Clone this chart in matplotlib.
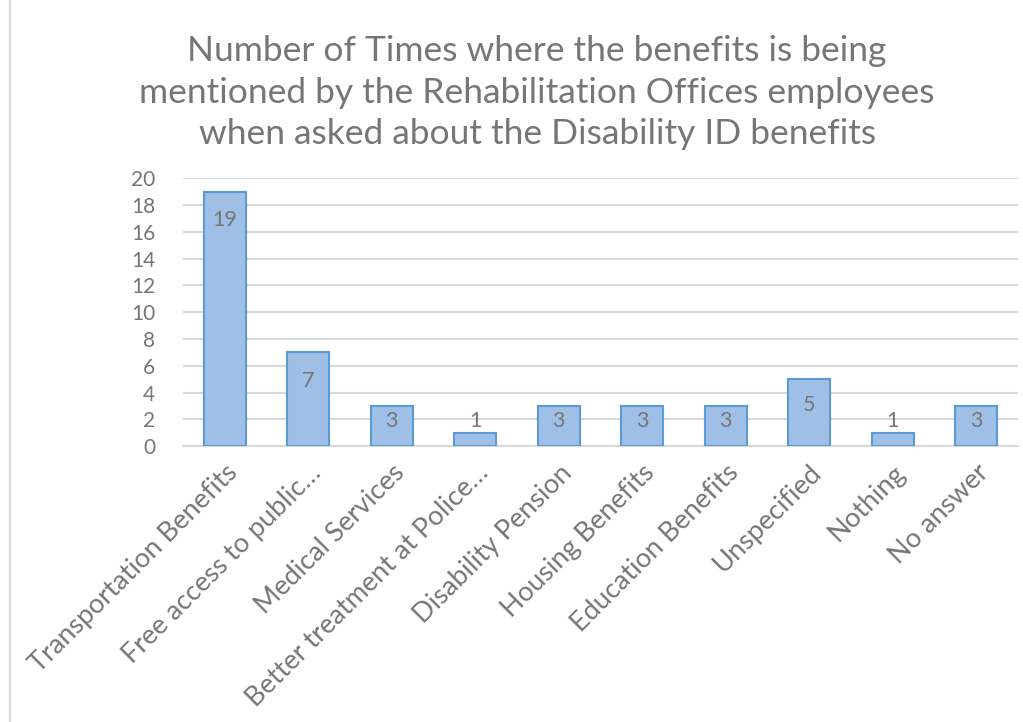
import numpy as np
import matplotlib.pyplot as plt
from matplotlib.patches import Rectangle

categories = ["Transportation Benefits", "Free access to public…", "Medical Services",
              "Better treatment at Police…", "Disability Pension", "Housing Benefits",
              "Education Benefits", "Unspecified", "Nothing", "No answer"]
counts = [19, 7, 3, 1, 3, 3, 3, 5, 1, 3]
yticks = [0, 2, 4, 6, 8, 10, 12, 14, 16, 18, 20]

plt.rcParams['font.family'] = ['Lato', 'DejaVu Sans']
grey = "#767676"

fig = plt.figure(figsize=(10.23, 7.22), dpi=100)
ax = fig.add_axes([0.179, 0.382, 0.816, 0.371])

x = np.arange(len(categories))
ax.bar(x, counts, width=0.5, color="#a0bfe6", edgecolor="#5b9bd5", linewidth=1.5, zorder=3)

for xi, v in zip(x, counts):
    if v < 2:
        ax.text(xi, v + 0.9, str(v), ha="center", va="center", fontsize=15.5, color=grey, zorder=4)
    else:
        ax.text(xi, v - min(2.1, 0.38 * v), str(v), ha="center", va="center",
                fontsize=15.5, color=grey, zorder=4)

ax.set_xlim(-0.5, len(categories) - 0.5)
ax.set_ylim(0, 20)
ax.set_yticks(yticks)
ax.yaxis.grid(True, color="#d9d9d9", linewidth=1.5, zorder=0)
ax.tick_params(axis="y", length=0, labelsize=15, labelcolor=grey, pad=20)
ax.tick_params(axis="x", length=0, labelsize=19.5, labelcolor=grey, pad=10)
ax.set_xticks(x)
ax.set_xticklabels(categories, rotation=45, ha="right", rotation_mode="anchor")
for s in ["top", "right", "left"]:
    ax.spines[s].set_visible(False)
ax.spines["bottom"].set_color("#d9d9d9")
ax.spines["bottom"].set_linewidth(1.5)

fig.text(0.525, 0.952, "Number of Times where the benefits is being\n"
         "mentioned by the Rehabilitation Offices employees\n"
         "when asked about the Disability ID benefits",
         ha="center", va="top", fontsize=25.5, color=grey, linespacing=1.38)

fig.patches.append(Rectangle((0.01, -0.01), 1.0, 1.02, transform=fig.transFigure,
                             fill=False, edgecolor="#d9d9d9", linewidth=1.5))

fig.savefig("out.png", dpi=100)
